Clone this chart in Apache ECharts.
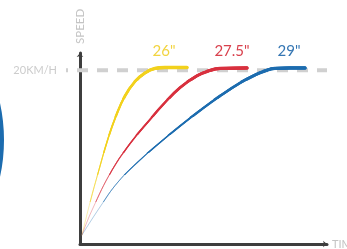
<!DOCTYPE html>
<html><head><meta charset="utf-8">
<script src="https://cdn.jsdelivr.net/npm/echarts@6/dist/echarts.min.js"></script>
<style>html,body{margin:0;padding:0;background:#fff}#c{width:347px;height:249px}</style>
</head><body><div id="c"></div>
<script>
// time (arbitrary units), speed (km/h)
const wheelSizes = ['26"', '27.5"', '29"'];
const colors = ['#f2d11c', '#d8303e', '#1c6caf'];
const textColors = ['#f2d440', '#d9414d', '#3576b3'];
const yellow26 = [[0.08,1.04],[0.40,4.72],[0.77,8.56],[1.13,12.10],[1.46,14.77],[1.82,17.05],[2.23,18.72],[2.63,19.70],[3.04,20.22],[3.44,20.33],[4.33,20.33]];
const red275 = [[0.08,1.04],[0.49,3.92],[1.30,8.53],[2.06,11.69],[2.83,14.32],[3.36,16.05],[4.05,18.01],[4.74,19.38],[5.26,19.98],[5.67,20.21],[6.76,20.28]];
const blue29 = [[0.08,1.04],[0.81,4.26],[1.54,7.14],[2.43,9.68],[3.24,11.69],[4.05,13.59],[4.86,15.38],[5.67,17.05],[6.48,18.55],[7.09,19.47],[7.49,19.93],[7.89,20.22],[8.50,20.28],[9.11,20.28]];
const targetSpeed = 20;
const targetLabel = '20KM/H';
const curves = [yellow26, red275, blue29];

const series = [];
series.push({
  type:'line', xAxisIndex:1, yAxisIndex:1, data:[[0,targetSpeed],[1,targetSpeed]],
  symbol:'none', silent:true, z:1,
  lineStyle:{color:'#d0d0d0', width:4, type:[11,9], dashOffset:9}
});
// stroke gets heavier as speed rises: [speed where layer starts, width, opacity]
const layers = [[0,0.7,0.5],[5,0.9,0.7],[8,1.2,0.85],[10.5,1.5,1],[12.5,1.9,1],[14.5,2.3,1],[16.5,2.7,1],[18.5,3.1,1],[19.8,3.4,1]];
const clear = 'rgba(255,255,255,0)';
curves.forEach((pts,i)=>{
  const vs = pts.map(p=>p[1]);
  const vmin = Math.min(...vs), vmax = Math.max(...vs);
  layers.forEach(([s,w,op])=>{
    let col = colors[i];
    if (s>0){
      const f = Math.max(0, Math.min(1, (vmax - s)/(vmax - vmin)));
      col = {type:'linear', x:0, y:0, x2:0, y2:1, global:false,
        colorStops:[{offset:0,color:colors[i]},{offset:f,color:colors[i]},{offset:f,color:clear},{offset:1,color:clear}]};
    }
    series.push({type:'line', data:pts, smooth:0.45, symbol:'none', z:3, silent:true,
      lineStyle:{color:col, width:w, opacity:op, cap:'round', join:'round'}});
  });
});

const chart = echarts.init(document.getElementById('c'));
chart.setOption({
  animation:false,
  grid:[{left:80,right:20,top:53,bottom:5,outerBoundsMode:'none',containLabel:false},
        {left:66,right:20,top:53,bottom:5,outerBoundsMode:'none',containLabel:false}],
  xAxis:[
    {type:'value', min:0, max:10, gridIndex:0, name:'TIME', nameLocation:'end', nameGap:5,
     nameTextStyle:{color:'#c4c4c4', fontSize:11, fontFamily:'Lato'},
     axisLine:{show:true, lineStyle:{color:'#3e3e3e', width:3}, symbol:['none','arrow'], symbolSize:[5,4]},
     axisTick:{show:false}, axisLabel:{show:false}, splitLine:{show:false}},
    {type:'value', min:0, max:1, gridIndex:1, show:false}
  ],
  yAxis:[
    {type:'value', min:0, max:22, gridIndex:0, name:'SPEED', nameLocation:'end', nameGap:9, nameRotate:90,
     nameTextStyle:{color:'#c4c4c4', fontSize:11.5, fontFamily:'Lato'},
     axisLine:{show:true, lineStyle:{color:'#3e3e3e', width:3}, symbol:['none','arrow'], symbolSize:[5,4]},
     axisTick:{show:false}, axisLabel:{show:false}, splitLine:{show:false}},
    {type:'value', min:0, max:22, interval:10, gridIndex:1,
     axisLine:{show:false}, axisTick:{show:false}, splitLine:{show:false},
     axisLabel:{margin:9, color:'#cccccc', fontSize:11, fontFamily:'Lato',
       formatter:v=> v===targetSpeed ? targetLabel : ''}}
  ],
  series:series,
  graphic:[
    {type:'circle', shape:{cx:-169, cy:140, r:171}, style:{fill:'none', stroke:'#1c6caf', lineWidth:4}, silent:true},
    {type:'text', x:164, y:51, style:{text:wheelSizes[0], fill:textColors[0], font:'15px Lato', textAlign:'center', textVerticalAlign:'middle'}},
    {type:'text', x:232, y:51, style:{text:wheelSizes[1], fill:textColors[1], font:'15px Lato', textAlign:'center', textVerticalAlign:'middle'}},
    {type:'text', x:289, y:51, style:{text:wheelSizes[2], fill:textColors[2], font:'15px Lato', textAlign:'center', textVerticalAlign:'middle'}}
  ]
});
</script></body></html>
